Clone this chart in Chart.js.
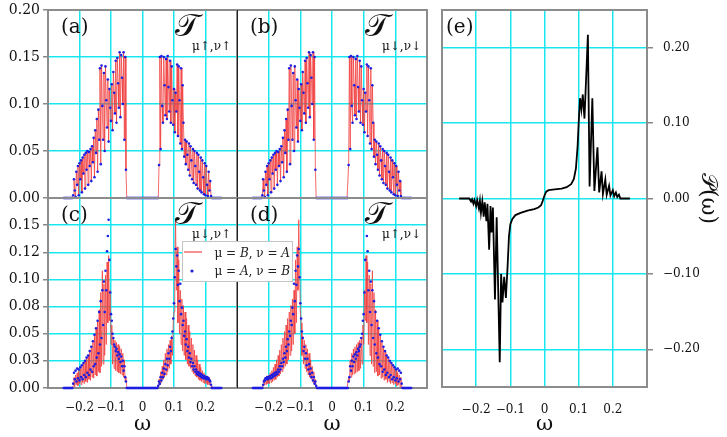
<!DOCTYPE html>
<html>
<head>
<meta charset="utf-8">
<script src="https://cdn.jsdelivr.net/npm/chart.js@4.4.0/dist/chart.umd.min.js"></script>
<style>
  html, body { margin: 0; padding: 0; background: #fff; }
  #wrap { position: relative; width: 727px; height: 437px; }
  #wrap canvas { position: absolute; left: 0; top: 0; }
</style>
</head>
<body>
<div id="wrap">
  <canvas id="pa" width="727" height="437"></canvas>
  <canvas id="pb" width="727" height="437"></canvas>
  <canvas id="pc" width="727" height="437"></canvas>
  <canvas id="pd" width="727" height="437"></canvas>
  <canvas id="pe" width="727" height="437"></canvas>
</div>
<script>
// ticks
var xTickVals = [-0.2, -0.1, 0, 0.1, 0.2];
var xTickText = ['\u22120.2', '\u22120.1', '0', '0.1', '0.2'];
var yTicksAB = [0, 0.05, 0.1, 0.15, 0.2];
var yTextAB = ['0.00', '0.05', '0.10', '0.15', '0.20'];
var yTicksCD = [0, 0.025, 0.05, 0.075, 0.1, 0.125, 0.15];
var yTextCD = ['0.00', '0.03', '0.05', '0.08', '0.10', '0.12', '0.15'];
var yTicksE = [-0.2, -0.1, 0, 0.1, 0.2];
var yTextE = ['\u22120.20', '\u22120.10', '0.00', '0.10', '0.20'];

// T spectra, sampled every 0.0025 ; lobes run -0.22..-0.05 and 0.05..0.22, zero elsewhere
var tStep = 0.0025;

// (a) T up,up  (red and blue lie on top of each other; (b) reads the same)
var tUpUpLeft = [
  0.003, 0.020, 0.008, 0.001, 0.028, 0.014, 0.034, 0.003, 0.037, 0.020,
  0.040, 0.006, 0.043, 0.026, 0.046, 0.010, 0.048, 0.030, 0.050, 0.014,
  0.049, 0.034, 0.052, 0.018, 0.055, 0.038, 0.064, 0.022, 0.072, 0.048,
  0.084, 0.028, 0.094, 0.062, 0.138, 0.036, 0.141, 0.098, 0.062, 0.133,
  0.050, 0.140, 0.104, 0.075, 0.126, 0.060, 0.116, 0.096, 0.082, 0.121,
  0.072, 0.134, 0.112, 0.090, 0.146, 0.080, 0.149, 0.122, 0.096, 0.155,
  0.086, 0.152, 0.128, 0.100, 0.155, 0.062, 0.150, 0.030, 0.000
];
var tUpUpRight = [
  0.000, 0.035, 0.150, 0.052, 0.151, 0.098, 0.080, 0.150, 0.120, 0.088,
  0.148, 0.084, 0.151, 0.118, 0.092, 0.146, 0.080, 0.140, 0.104, 0.078,
  0.116, 0.070, 0.112, 0.092, 0.142, 0.066, 0.140, 0.104, 0.058, 0.138,
  0.052, 0.120, 0.080, 0.044, 0.062, 0.036, 0.060, 0.046, 0.030, 0.058,
  0.024, 0.055, 0.040, 0.020, 0.052, 0.016, 0.050, 0.034, 0.014, 0.048,
  0.010, 0.046, 0.028, 0.008, 0.043, 0.006, 0.040, 0.022, 0.004, 0.037,
  0.003, 0.034, 0.014, 0.002, 0.028, 0.008, 0.018, 0.002, 0.000
];

// (c) T down,up : mu=B,nu=A (red line) and mu=A,nu=B (blue dots)
var tBALeft = [
  0.002, 0.010, 0.001, 0.012, 0.003, 0.014, 0.002, 0.016, 0.004, 0.018,
  0.003, 0.020, 0.005, 0.022, 0.004, 0.025, 0.006, 0.027, 0.005, 0.030,
  0.008, 0.033, 0.007, 0.037, 0.010, 0.042, 0.009, 0.048, 0.012, 0.055,
  0.011, 0.062, 0.015, 0.072, 0.014, 0.088, 0.020, 0.108, 0.022, 0.096,
  0.030, 0.104, 0.040, 0.116, 0.060, 0.122, 0.062, 0.090, 0.040, 0.058,
  0.022, 0.046, 0.018, 0.044, 0.016, 0.042, 0.015, 0.040, 0.014, 0.038,
  0.013, 0.036, 0.012, 0.032, 0.010, 0.026, 0.006, 0.010, 0.000
];
var tBARight = [
  0.000, 0.008, 0.003, 0.015, 0.005, 0.020, 0.008, 0.026, 0.010, 0.032,
  0.012, 0.036, 0.015, 0.040, 0.018, 0.044, 0.022, 0.048, 0.030, 0.060,
  0.070, 0.110, 0.155, 0.090, 0.130, 0.060, 0.118, 0.050, 0.090, 0.040,
  0.082, 0.034, 0.076, 0.030, 0.070, 0.026, 0.064, 0.022, 0.058, 0.020,
  0.052, 0.018, 0.046, 0.015, 0.040, 0.013, 0.035, 0.011, 0.030, 0.010,
  0.026, 0.008, 0.022, 0.007, 0.019, 0.006, 0.016, 0.005, 0.014, 0.004,
  0.012, 0.004, 0.011, 0.003, 0.010, 0.003, 0.008, 0.002, 0.000
];
var tABLeft = [
  0.004, 0.014, 0.008, 0.016, 0.006, 0.018, 0.009, 0.017, 0.007, 0.019,
  0.010, 0.021, 0.008, 0.023, 0.012, 0.025, 0.010, 0.028, 0.014, 0.030,
  0.012, 0.034, 0.017, 0.038, 0.015, 0.043, 0.020, 0.049, 0.022, 0.055,
  0.028, 0.062, 0.032, 0.070, 0.040, 0.080, 0.046, 0.090, 0.058, 0.098,
  0.070, 0.108, 0.090, 0.126, 0.140, 0.155, 0.118, 0.088, 0.068, 0.062,
  0.050, 0.046, 0.040, 0.038, 0.034, 0.036, 0.030, 0.033, 0.027, 0.031,
  0.024, 0.029, 0.020, 0.025, 0.016, 0.020, 0.010, 0.006, 0.000
];
var tABRight = [
  0.002, 0.006, 0.004, 0.010, 0.007, 0.014, 0.010, 0.018, 0.013, 0.022,
  0.017, 0.027, 0.021, 0.032, 0.027, 0.038, 0.034, 0.046, 0.052, 0.064,
  0.078, 0.102, 0.128, 0.112, 0.122, 0.095, 0.108, 0.080, 0.096, 0.068,
  0.074, 0.058, 0.062, 0.048, 0.052, 0.040, 0.045, 0.034, 0.038, 0.028,
  0.032, 0.024, 0.027, 0.020, 0.023, 0.017, 0.020, 0.015, 0.017, 0.013,
  0.015, 0.012, 0.014, 0.011, 0.013, 0.010, 0.012, 0.009, 0.011, 0.009,
  0.010, 0.008, 0.010, 0.008, 0.009, 0.007, 0.006, 0.003, 0.000
];

// (e) P(omega)
var pOmega = [
  -0.250, -0.220, -0.215, -0.212, -0.208, -0.205, -0.200, -0.197, -0.192, -0.189,
  -0.186, -0.182, -0.178, -0.175, -0.170, -0.167, -0.162, -0.158, -0.155, -0.151,
  -0.145, -0.140, -0.131, -0.127, -0.123, -0.118, -0.113, -0.108, -0.104, -0.100,
  -0.094, -0.085, -0.070, -0.050, -0.030, -0.018, -0.010, -0.005, 0.000, 0.005,
  0.012, 0.030, 0.050, 0.065, 0.078, 0.086, 0.092, 0.097, 0.100, 0.104,
  0.108, 0.112, 0.117, 0.127, 0.132, 0.140, 0.146, 0.155, 0.160, 0.167,
  0.171, 0.178, 0.182, 0.189, 0.193, 0.200, 0.204, 0.209, 0.213, 0.218,
  0.222, 0.250
];
var pValue = [
  0, 0, -0.004, -0.001, -0.007, -0.002, -0.010, -0.002, -0.013, -0.003,
  -0.019, -0.004, -0.024, -0.005, -0.030, -0.007, -0.068, -0.010, -0.045, -0.012,
  -0.134, -0.025, -0.217, -0.100, -0.138, -0.104, -0.132, -0.090, -0.050, -0.034,
  -0.027, -0.022, -0.019, -0.016, -0.014, -0.012, -0.009, -0.003, 0.004, 0.009,
  0.011, 0.012, 0.013, 0.015, 0.019, 0.026, 0.040, 0.070, 0.100, 0.133,
  0.118, 0.138, 0.106, 0.217, 0.016, 0.133, 0.010, 0.068, 0.008, 0.036,
  0.006, 0.025, 0.005, 0.017, 0.004, 0.011, 0.003, 0.008, 0.002, 0.005,
  0.000, 0.000
];

function lobeSeries(left, right) {
  var pts = [];
  for (var i = 0; i <= 200; i++) {
    var w = -0.25 + i * tStep;
    var y = 0;
    if (i >= 12 && i <= 80) y = left[i - 12];
    else if (i >= 120 && i <= 188) y = right[i - 120];
    pts.push({x: +w.toFixed(4), y: y});
  }
  return pts;
}

function flipped(a) { return a.slice().reverse(); }

Chart.defaults.font.family = '"DejaVu Serif", serif';
Chart.defaults.color = '#111';

var gridColor = 'rgba(0,228,238,0.9)';
var redColor = 'rgba(240,60,60,0.75)';
var blueColor = 'rgb(30,30,225)';

var panelDeco = {
  id: 'panelDeco',
  beforeDatasetsDraw: function(chart, args, o) {
    var a = chart.chartArea, ctx = chart.ctx;
    ctx.save();
    ctx.strokeStyle = '#8c8c8c';
    ctx.lineWidth = 2;
    ctx.strokeRect(a.left, a.top, a.right - a.left, a.bottom - a.top);
    if (o.darkLeft) {
      ctx.strokeStyle = '#222';
      ctx.lineWidth = 1;
      ctx.beginPath();
      ctx.moveTo(a.left + 0.5, a.top);
      ctx.lineTo(a.left + 0.5, a.bottom);
      ctx.stroke();
    }
    ctx.restore();
  },
  afterDraw: function(chart, args, o) {
    var a = chart.chartArea, ctx = chart.ctx;
    ctx.save();
    ctx.fillStyle = '#111';
    ctx.textBaseline = 'middle';
    ctx.font = '20px "DejaVu Serif"';
    ctx.fillText(o.label, a.left + o.labelDx, a.top + 18);
    if (o.sub) {
      ctx.font = '32px "DejaVu Serif"';
      ctx.fillText('\uD835\uDCAF', a.right - 62, a.top + 18);
      ctx.font = '12px "DejaVu Serif"';
      ctx.fillText(o.sub, a.right - 45, a.top + 37);
    }
    if (o.legend) {
      ctx.fillStyle = '#fff';
      ctx.fillRect(182, 241, 110, 40);
      ctx.strokeStyle = '#c4c4c4';
      ctx.lineWidth = 1;
      ctx.strokeRect(182.5, 241.5, 110, 40);
      ctx.strokeStyle = redColor;
      ctx.lineWidth = 1.5;
      ctx.beginPath();
      ctx.moveTo(184, 252);
      ctx.lineTo(202, 252);
      ctx.stroke();
      ctx.fillStyle = blueColor;
      ctx.beginPath();
      ctx.arc(192, 271, 1.6, 0, Math.PI * 2);
      ctx.fill();
      ctx.fillStyle = '#222';
      drawParts(ctx, [['\u03bc = ', 0], ['B', 1], [', \u03bd = ', 0], ['A', 1]], 290, 254);
      drawParts(ctx, [['\u03bc = ', 0], ['A', 1], [', \u03bd = ', 0], ['B', 1]], 290, 272);
    }
    ctx.restore();
  }
};

function drawParts(ctx, parts, rightX, y) {
  var fonts = ['12px "DejaVu Serif"', 'italic 12px "DejaVu Serif"'];
  var total = 0;
  parts.forEach(function(p) { ctx.font = fonts[p[1]]; total += ctx.measureText(p[0]).width; });
  var x = rightX - total;
  parts.forEach(function(p) {
    ctx.font = fonts[p[1]];
    ctx.fillText(p[0], x, y);
    x += ctx.measureText(p[0]).width;
  });
}

function tPanel(id, cfg) {
  var yw = cfg.yLabels ? 48 : 0;
  var xh = cfg.xLabels ? 49 : 0;
  return new Chart(document.getElementById(id), {
    type: 'scatter',
    data: {
      datasets: [
        {
          data: lobeSeries(cfg.blue[0], cfg.blue[1]),
          showLine: false,
          pointRadius: 1.3,
          pointBorderWidth: 0,
          pointBackgroundColor: blueColor,
          clip: 4
        },
        {
          data: lobeSeries(cfg.red[0], cfg.red[1]),
          showLine: true,
          borderColor: redColor,
          borderWidth: 1,
          pointRadius: 0,
          clip: 4
        }
      ]
    },
    options: {
      responsive: false,
      animation: false,
      events: [],
      layout: { padding: cfg.pad },
      plugins: {
        legend: { display: false },
        tooltip: { enabled: false },
        panelDeco: { label: cfg.label, labelDx: 13, sub: cfg.sub, darkLeft: cfg.darkLeft, legend: cfg.legend }
      },
      scales: {
        x: {
          type: 'linear', min: -0.3, max: 0.3,
          afterBuildTicks: function(s) { s.ticks = xTickVals.map(function(v) { return {value: v}; }); },
          afterFit: function(s) { s.height = xh; s.paddingLeft = 0; s.paddingRight = 0; },
          grid: { color: gridColor, lineWidth: 1.5, drawTicks: false },
          border: { display: false },
          ticks: { display: cfg.xLabels, padding: 13, font: { size: 12 }, callback: function(v, i) { return xTickText[i]; } },
          title: { display: cfg.xLabels, text: '\u03c9', font: { size: 21 }, padding: 0 }
        },
        y: {
          type: 'linear', min: 0, max: cfg.yMax,
          afterBuildTicks: function(s) { s.ticks = cfg.yTicks.map(function(v) { return {value: v}; }); },
          afterFit: function(s) { s.width = yw; s.paddingTop = 0; s.paddingBottom = 0; },
          grid: { color: gridColor, lineWidth: 1.5, drawTicks: !!cfg.yLabels, tickLength: 5, tickColor: '#888' },
          border: { display: false },
          ticks: { display: !!cfg.yLabels, padding: 3, font: { size: 14 }, callback: function(v, i) { return cfg.yText[i]; } }
        }
      }
    },
    plugins: [panelDeco]
  });
}

tPanel('pa', { pad: {left: 0, top: 10, right: 490, bottom: 239}, yLabels: true, xLabels: false,
  yMax: 0.2, yTicks: yTicksAB, yText: yTextAB, blue: [tUpUpLeft, tUpUpRight], red: [tUpUpLeft, tUpUpRight],
  label: '(a)', sub: '\u03bc\u2191,\u03bd\u2191' });
tPanel('pb', { pad: {left: 237, top: 10, right: 300, bottom: 239}, yLabels: false, xLabels: false,
  yMax: 0.2, yTicks: yTicksAB, yText: yTextAB, blue: [tUpUpLeft, tUpUpRight], red: [tUpUpLeft, tUpUpRight],
  label: '(b)', sub: '\u03bc\u2193,\u03bd\u2193', darkLeft: true });
tPanel('pc', { pad: {left: 0, top: 198, right: 490, bottom: 0}, yLabels: true, xLabels: true,
  yMax: 0.175, yTicks: yTicksCD, yText: yTextCD, blue: [tABLeft, tABRight], red: [tBALeft, tBARight],
  label: '(c)', sub: '\u03bc\u2193,\u03bd\u2191' });
// (d) is the mirror image of (c) in omega
tPanel('pd', { pad: {left: 237, top: 198, right: 300, bottom: 0}, yLabels: false, xLabels: true,
  yMax: 0.175, yTicks: yTicksCD, yText: yTextCD,
  blue: [flipped(tABRight), flipped(tABLeft)], red: [flipped(tBARight), flipped(tBALeft)],
  label: '(d)', sub: '\u03bc\u2191,\u03bd\u2193', darkLeft: true, legend: true });

new Chart(document.getElementById('pe'), {
  type: 'scatter',
  data: {
    datasets: [{
      data: pOmega.map(function(w, i) { return {x: w, y: pValue[i]}; }),
      showLine: true,
      borderColor: '#000',
      borderWidth: 1.8,
      pointRadius: 0,
      tension: 0
    }]
  },
  options: {
    responsive: false,
    animation: false,
    events: [],
    layout: { padding: {left: 442, top: 10, right: 0, bottom: 0} },
    plugins: {
      legend: { display: false },
      tooltip: { enabled: false },
      panelDeco: { label: '(e)', labelDx: 4 }
    },
    scales: {
      x: {
        type: 'linear', min: -0.3, max: 0.3,
        afterBuildTicks: function(s) { s.ticks = xTickVals.map(function(v) { return {value: v}; }); },
        afterFit: function(s) { s.height = 50; s.paddingLeft = 0; s.paddingRight = 0; },
        grid: { color: gridColor, lineWidth: 1.5, drawTicks: false },
        border: { display: false },
        ticks: { padding: 16, font: { size: 12 }, callback: function(v, i) { return xTickText[i]; } },
        title: { display: true, text: '\u03c9', font: { size: 21 }, padding: 0 }
      },
      y: {
        type: 'linear', position: 'right', min: -0.25, max: 0.25,
        afterBuildTicks: function(s) { s.ticks = yTicksE.map(function(v) { return {value: v}; }); },
        afterFit: function(s) { s.width = 80; s.paddingTop = 0; s.paddingBottom = 0; },
        grid: { color: gridColor, lineWidth: 1.5, tickLength: 6, tickColor: '#888' },
        border: { display: false },
        ticks: { padding: 10, font: { size: 12 }, callback: function(v, i) { return yTextE[i]; } },
        title: { display: true, text: '\uD835\uDCAB(\u03c9)', font: { size: 22 }, padding: { top: 6, bottom: 0 } }
      }
    }
  },
  plugins: [panelDeco]
});
</script>
</body>
</html>
